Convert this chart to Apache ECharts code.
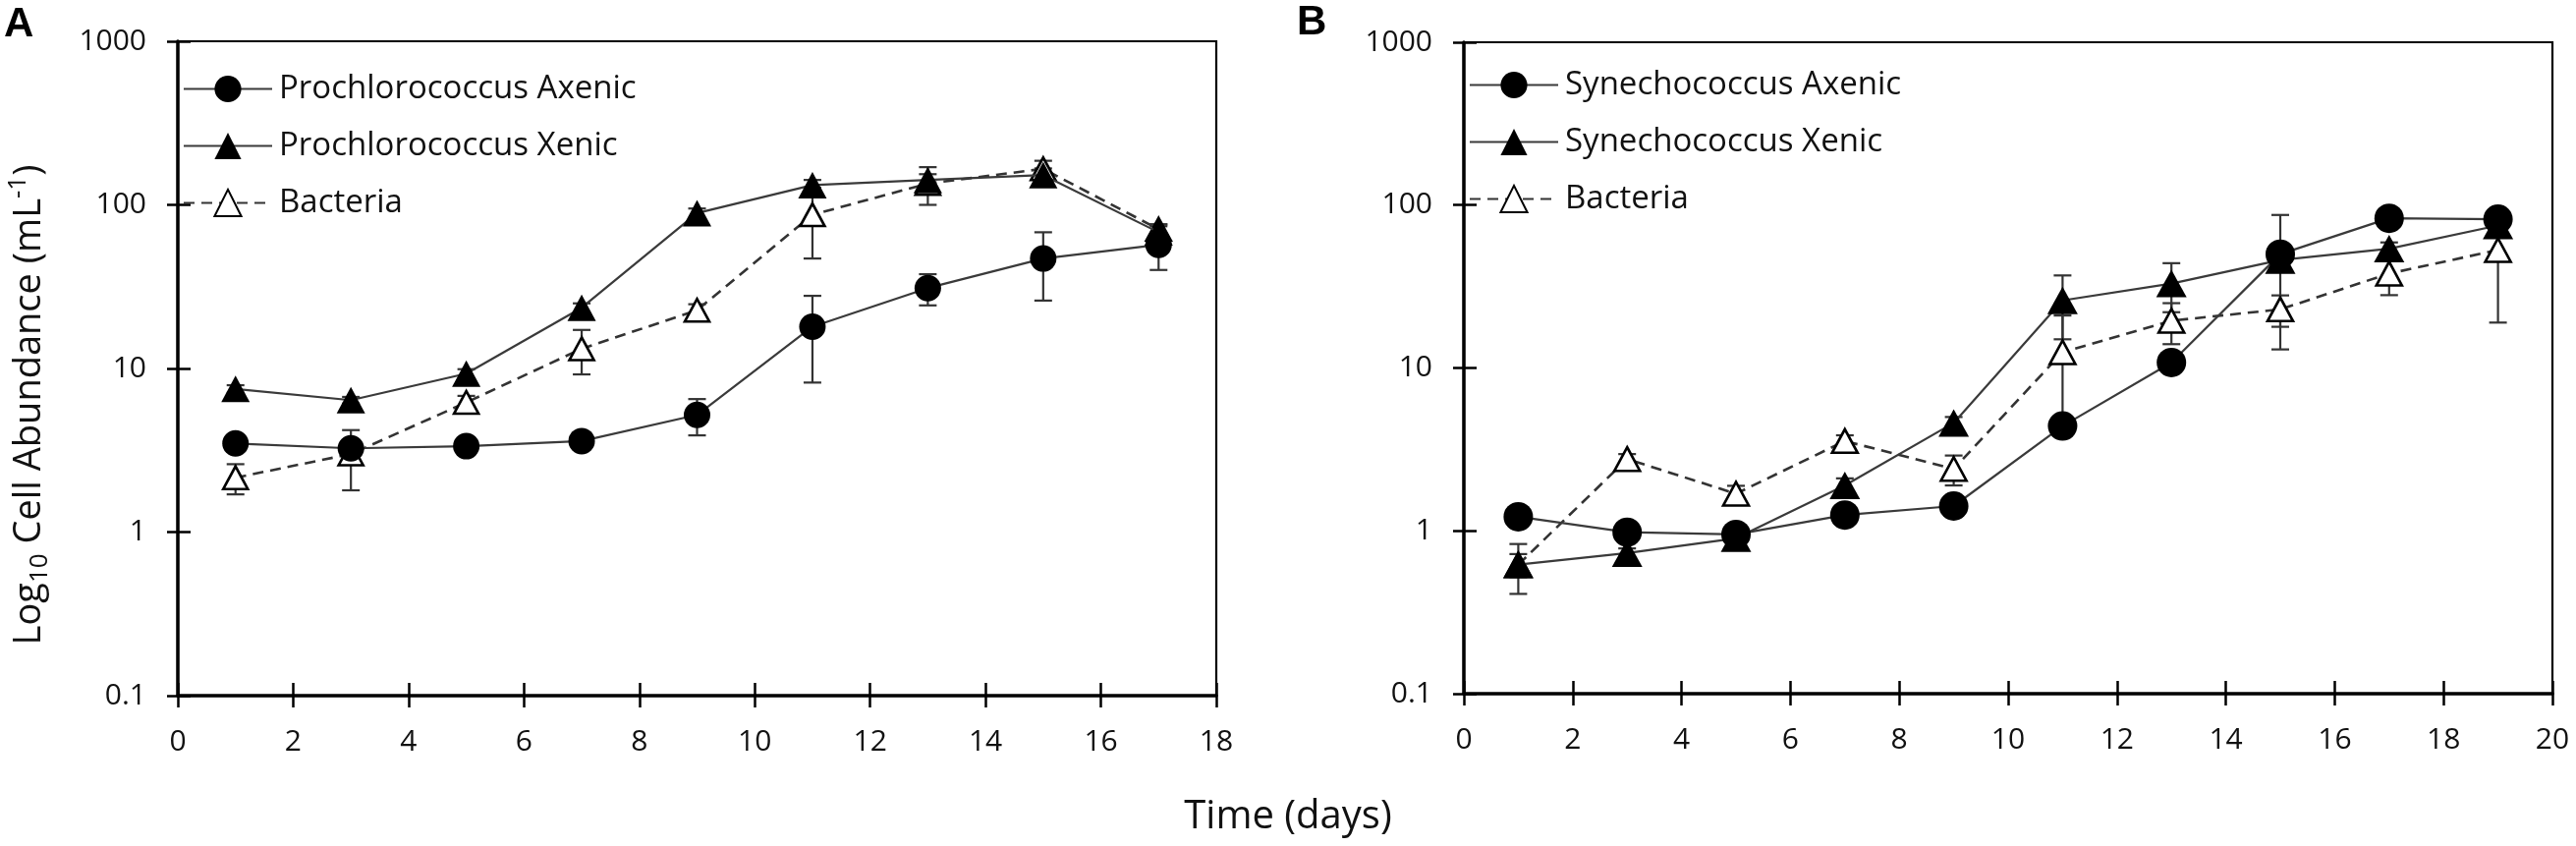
<!DOCTYPE html>
<html>
<head>
<meta charset="utf-8">
<script src="https://cdn.jsdelivr.net/npm/echarts@6/dist/echarts.min.js"></script>
<style>
html,body{margin:0;padding:0;background:#fff;}
#chart{width:2622px;height:861px;}
</style>
</head>
<body>
<div id="chart"></div>
<script>
// ---- Panel A data ----
const daysA = [1, 3, 5, 7, 9, 11, 13, 15, 17];
const proAxenic = [3.48, 3.25, 3.35, 3.6, 5.2, 18, 31, 47, 57];
const proAxenicErr = [0.15, 0.2, 0.2, 0.2, 1.3, 9.8, 6.7, 21, 17];
const proXenic = [7.5, 6.4, 9.3, 23.5, 89, 132, 142, 152, 68];
const proXenicErr = [0.4, 0.3, 0.6, 1.5, 6, 10, 12, 15, 8];
const proBact = [2.15, 3.0, 6.2, 13.2, 22.7, 87, 135, 166, 71];
const proBactErr = [0.45, 1.2, 0.6, 4, 2, 40, 35, 20, 5];

// ---- Panel B data ----
const daysB = [1, 3, 5, 7, 9, 11, 13, 15, 17, 19];
const synAxenic = [1.22, 0.98, 0.95, 1.25, 1.42, 4.4, 10.8, 50, 83, 82];
const synAxenicErr = [0.05, 0.05, 0.05, 0.05, 0.1, 0.3, 0.8, 37, 5, 5];
const synXenic = [0.62, 0.73, 0.9, 1.9, 4.6, 26, 33, 46, 54, 75];
const synXenicErr = [0.21, 0.05, 0.05, 0.2, 0.4, 11, 11, 5, 5, 5];
const synBact = [0.62, 2.76, 1.69, 3.56, 2.4, 12.5, 19.5, 22.9, 38, 53];
const synBactErr = [0.1, 0.2, 0.2, 0.3, 0.5, 8.5, 5.5, 5, 10, 34];

// ---- Axis ticks / labels ----
const xMaxA = 18, xMaxB = 20, xStep = 2;
const yMin = 0.1, yMax = 1000;
const namesA = ['Prochlorococcus Axenic', 'Prochlorococcus Xenic', 'Bacteria'];
const namesB = ['Synechococcus Axenic', 'Synechococcus Xenic', 'Bacteria'];
const yTitleParts = ['Log', '10', ' Cell Abundance (mL', '-1', ')'];
const xTitle = 'Time (days)';

const chart = echarts.init(document.getElementById('chart'), null, {renderer: 'canvas'});

const pairs = (xs, ys) => xs.map((x, i) => [x, ys[i]]);
const errs = (xs, ys, es) => xs.map((x, i) => [x, ys[i] - es[i], ys[i] + es[i]]);

function errRender(params, api) {
  const x = api.value(0), lo = api.value(1), hi = api.value(2);
  const p1 = api.coord([x, hi]);
  const p2 = api.coord([x, lo]);
  const w = 9;
  const st = {stroke: '#333', lineWidth: 2.2};
  return {
    type: 'group',
    children: [
      {type: 'line', shape: {x1: p1[0], y1: p1[1], x2: p2[0], y2: p2[1]}, style: st},
      {type: 'line', shape: {x1: p1[0] - w, y1: p1[1], x2: p1[0] + w, y2: p1[1]}, style: st},
      {type: 'line', shape: {x1: p2[0] - w, y1: p2[1], x2: p2[0] + w, y2: p2[1]}, style: st}
    ]
  };
}

const FONT = '"Open Sans"';
const lblStyle = {fontFamily: FONT, fontSize: 30, color: '#111'};

function xAxes(gi, max) {
  return [
    {type: 'value', gridIndex: gi, min: 0, max: max, interval: xStep,
     axisLine: {lineStyle: {color: '#000', width: 3.5}},
     axisTick: {show: true, inside: false, length: 12, lineStyle: {color: '#000', width: 2.5}},
     axisLabel: Object.assign({margin: 32}, lblStyle),
     splitLine: {show: false}},
    {type: 'value', gridIndex: gi, min: 0, max: max, interval: xStep, position: 'bottom',
     axisLine: {show: false},
     axisTick: {show: true, inside: true, length: 13, lineStyle: {color: '#000', width: 2.5}},
     axisLabel: {show: false}, splitLine: {show: false}}
  ];
}
function yAxes(gi) {
  return [
    {type: 'log', logBase: 10, gridIndex: gi, min: yMin, max: yMax,
     axisLine: {show: true, lineStyle: {color: '#000', width: 3.5}},
     axisTick: {show: true, inside: false, length: 11, lineStyle: {color: '#000', width: 2.5}},
     axisLabel: Object.assign({margin: 32, formatter: v => (v < 1 ? Number(v).toFixed(1) : String(Math.round(v)))}, lblStyle),
     minorTick: {show: false}, splitLine: {show: false}},
    {type: 'log', logBase: 10, gridIndex: gi, min: yMin, max: yMax, position: 'left',
     axisLine: {show: false},
     axisTick: {show: true, inside: true, length: 13, lineStyle: {color: '#000', width: 2.5}},
     axisLabel: {show: false}, splitLine: {show: false}}
  ];
}

function lineSeries(name, xi, yi, data, kind, size) {
  const s = {
    name: name, type: 'line', xAxisIndex: xi, yAxisIndex: yi, data: data,
    symbolSize: size, z: 5,
    lineStyle: {color: '#3a3a3a', width: 2.2},
    itemStyle: {color: '#000'},
    emphasis: {disabled: true}
  };
  if (kind === 'circle') { s.symbol = 'circle'; }
  if (kind === 'tri') { s.symbol = 'triangle'; }
  if (kind === 'open') {
    s.symbol = 'triangle';
    s.itemStyle = {color: '#fff', borderColor: '#000', borderWidth: 2.6};
    s.lineStyle = {color: '#333', width: 2.6, type: [11, 7]};
    s.z = 4;
  }
  return s;
}
function errSeries(xi, yi, data) {
  return {type: 'custom', xAxisIndex: xi, yAxisIndex: yi, data: data, renderItem: errRender,
          encode: {x: 0, y: [1, 2]}, z: 3, silent: true};
}

const legendCommon = {
  orient: 'vertical', itemWidth: 90, itemHeight: 34, itemGap: 25,
  textStyle: {fontFamily: FONT, fontSize: 33, color: '#111', padding: [0, 0, 0, 2]},
  selectedMode: false
};

const option = {
  backgroundColor: '#fff',
  animation: false,
  grid: [
    {left: 181, top: 42, width: 1057, height: 666, show: true, borderColor: '#000', borderWidth: 2.2, backgroundColor: 'transparent'},
    {left: 1490, top: 43, width: 1108, height: 663, show: true, borderColor: '#000', borderWidth: 2.2, backgroundColor: 'transparent'}
  ],
  xAxis: [...xAxes(0, xMaxA), ...xAxes(1, xMaxB)],
  yAxis: [...yAxes(0), ...yAxes(1)],
  legend: [
    Object.assign({}, legendCommon, {left: 181, top: 69, data: namesA}),
    Object.assign({}, legendCommon, {left: 1490, top: 65, data: namesB})
  ],
  series: [
    errSeries(0, 0, errs(daysA, proAxenic, proAxenicErr)),
    errSeries(0, 0, errs(daysA, proXenic, proXenicErr)),
    errSeries(0, 0, errs(daysA, proBact, proBactErr)),
    lineSeries(namesA[2], 0, 0, pairs(daysA, proBact), 'open', [25, 23]),
    lineSeries(namesA[0], 0, 0, pairs(daysA, proAxenic), 'circle', 27),
    lineSeries(namesA[1], 0, 0, pairs(daysA, proXenic), 'tri', [29, 27]),

    errSeries(2, 2, errs(daysB, synAxenic, synAxenicErr)),
    errSeries(2, 2, errs(daysB, synXenic, synXenicErr)),
    errSeries(2, 2, errs(daysB, synBact, synBactErr)),
    lineSeries(namesB[2], 2, 2, pairs(daysB, synBact), 'open', [26, 24]),
    lineSeries(namesB[0], 2, 2, pairs(daysB, synAxenic), 'circle', 30),
    lineSeries(namesB[1], 2, 2, pairs(daysB, synXenic), 'tri', [31, 28])
  ],
  graphic: [
    {type: 'text', left: 4, top: 4, style: {text: 'A', font: 'bold 42px "Liberation Sans", Arial', fill: '#000'}},
    {type: 'text', left: 1320, top: 2, style: {text: 'B', font: 'bold 42px "Liberation Sans", Arial', fill: '#000'}},
    {type: 'text', x: 30, y: 412, rotation: Math.PI / 2,
     style: {
       text: '{m|' + yTitleParts[0] + '}{sub|' + yTitleParts[1] + '}{m|' + yTitleParts[2] + '}{sup|' + yTitleParts[3] + '}{m|' + yTitleParts[4] + '}',
       align: 'center', verticalAlign: 'middle',
       rich: {
         m: {fontFamily: FONT, fontSize: 38, fill: '#111', lineHeight: 48, verticalAlign: 'middle'},
         sub: {fontFamily: FONT, fontSize: 26, fill: '#111', lineHeight: 48, verticalAlign: 'bottom'},
         sup: {fontFamily: FONT, fontSize: 26, fill: '#111', lineHeight: 48, verticalAlign: 'top'}
       }
     }},
    {type: 'text', x: 1311, y: 832,
     style: {text: xTitle, font: '40px "Open Sans"', fill: '#111', align: 'center', verticalAlign: 'middle'}}
  ]
};
chart.setOption(option);
</script>
</body>
</html>
